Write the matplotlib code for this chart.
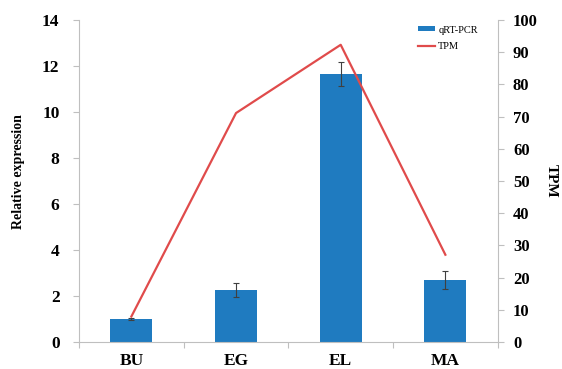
import numpy as np
import matplotlib
matplotlib.use("Agg")
import matplotlib.pyplot as plt

stages = ["BU", "EG", "EL", "MA"]
qpcr = [1.0, 2.27, 11.67, 2.70]
qpcr_err = [0.05, 0.31, 0.52, 0.40]
tpm = [7.9, 71.1, 92.3, 27.1]

plt.rcParams['font.family'] = ['Liberation Serif', 'DejaVu Serif']
grey = '#bfbfbf'

fig = plt.figure(figsize=(5.62, 3.69), dpi=100)
ax = fig.add_axes([0.1406, 0.0732, 0.745, 0.8726])
x = np.arange(len(stages))

ax.bar(x, qpcr, width=0.4, color='#1f7bc0', label='qRT-PCR', zorder=2)
ax.errorbar(x, qpcr, yerr=qpcr_err, fmt='none', ecolor='#404040',
            elinewidth=0.8, capsize=2.5, capthick=0.8, zorder=3)
ax.set_xlim(-0.5, 3.5)
ax.set_ylim(0, 14)
ax.set_yticks(np.arange(0, 15, 2))
ax.set_xticks(np.arange(-0.5, 4, 1))
ax.set_xticklabels([])
ax.set_xticks(x, minor=True)
ax.set_xticklabels(stages, minor=True, fontsize=12.5, fontweight='bold')
ax.tick_params(axis='x', which='minor', length=0, pad=8)
ax.tick_params(axis='x', which='major', length=4, color=grey, direction='out')
ax.tick_params(axis='y', length=4, color=grey, labelsize=12.5, pad=10)
for t in ax.get_yticklabels():
    t.set_fontweight('bold')
ax.set_ylabel('Relative expression', fontsize=10, fontweight='bold')
ax.yaxis.set_label_coords(-0.128, 0.53)
for s in ['left', 'bottom']:
    ax.spines[s].set_color(grey)
ax.spines['top'].set_visible(False)
ax.spines['right'].set_visible(False)

ax2 = ax.twinx()
ax2.plot(x, tpm, color='#e04b4b', lw=1.6, label='TPM', zorder=4)
ax2.set_ylim(0, 100)
ax2.set_yticks(np.arange(0, 101, 10))
ax2.tick_params(axis='y', length=4, color=grey, labelsize=12, pad=7)
for t in ax2.get_yticklabels():
    t.set_fontweight('bold')
ax2.set_ylabel('TPM', fontsize=11, fontweight='bold', rotation=270, labelpad=14)
ax2.spines['right'].set_color(grey)
for s in ['top', 'left', 'bottom']:
    ax2.spines[s].set_visible(False)

h1, l1 = ax.get_legend_handles_labels()
h2, l2 = ax2.get_legend_handles_labels()
leg = ax2.legend(h1 + h2, l1 + l2, loc='upper right', bbox_to_anchor=(0.975, 1.012),
                 frameon=False, fontsize=7.5, handlelength=1.6, handleheight=0.35,
                 labelspacing=0.7, handletextpad=0.3)

fig.savefig('out.png', dpi=100)
